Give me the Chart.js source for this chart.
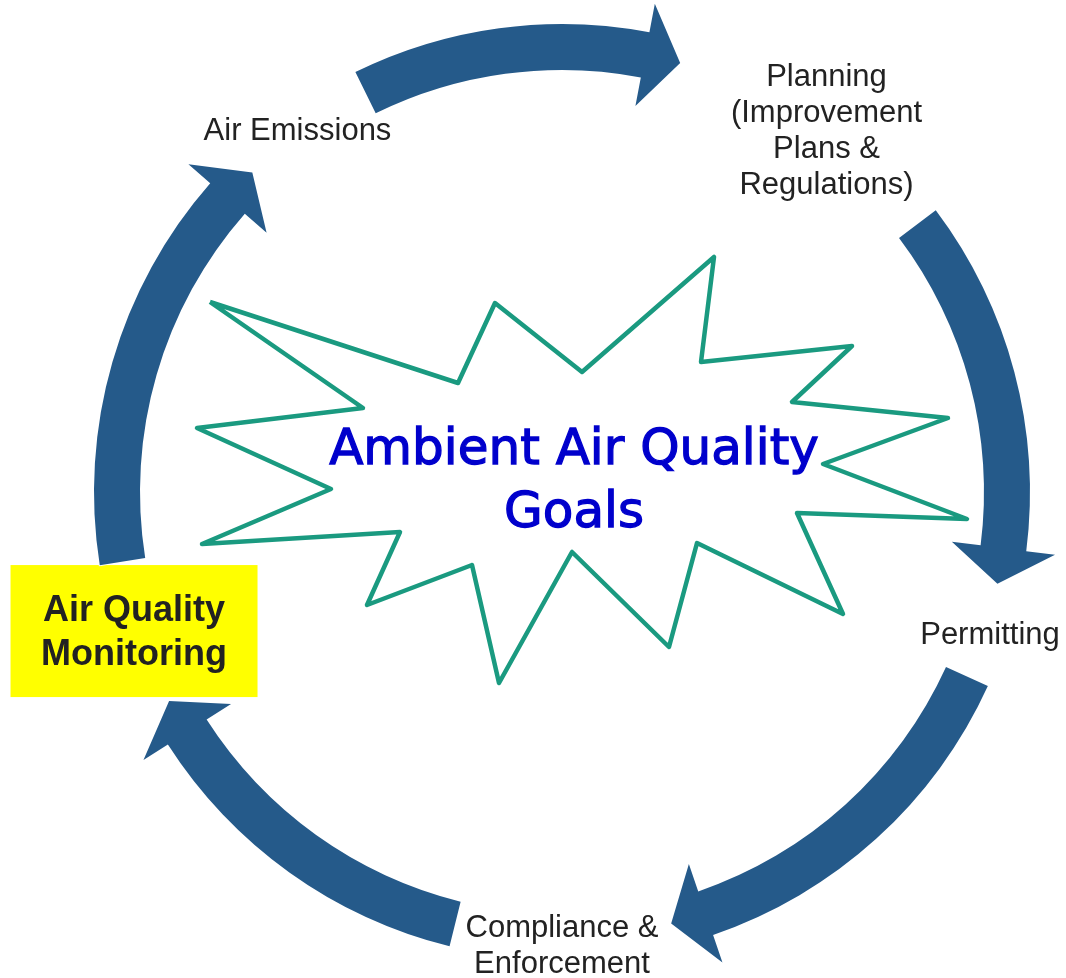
<!DOCTYPE html>
<html>
<head>
<meta charset="utf-8">
<title>Ambient Air Quality Goals</title>
<script src="https://cdn.jsdelivr.net/npm/chart.js@4.4.1/dist/chart.umd.min.js"></script>
<style>
    html, body { margin: 0; padding: 0; background: #fff; overflow: hidden; }
    #wrap { width: 1066px; height: 978px; position: relative; }
</style>
</head>
<body>
<div id="wrap"><canvas id="cycleChart"></canvas></div>
<script>
// stages of the cycle, clockwise from the top left
const stages = [
    ['Air Emissions'],
    ['Planning', '(Improvement', 'Plans &', 'Regulations)'],
    ['Permitting'],
    ['Compliance &', 'Enforcement'],
    ['Air Quality', 'Monitoring']
];
// angle of each stage on the ring (degrees, 0 = right, clockwise)
const stageAngles = [-126, -54, 18, 90, 162];

// arrows between stages: where the tail starts and where the tip ends (degrees)
const arrowFrom = [-116.2, -37.0, 24.5, 103.9, 171.0];
const arrowTo = [-74.6, 11.9, 75.8, 152.0, 225.9];

// the starburst outline in the middle
const burstX = [210, 458, 495, 582, 714, 701, 852, 792, 948, 823, 967, 797, 843, 697, 669, 572, 499, 472, 367, 400, 202, 331, 197, 363, 210];
const burstY = [302, 383, 303, 372, 257, 362, 346, 402, 418, 464, 519, 513, 614, 543, 647, 552, 683, 565, 605, 532, 544, 489, 428, 408, 302];

const titleLines = ['Ambient Air Quality', 'Goals'];
const highlightStage = 4;

const burstPoints = burstX.map((v, i) => ({ x: v, y: burstY[i] }));

const rad = d => d * Math.PI / 180;

// draws the ring of arrows, the yellow box and the labels using the chart scales
const cyclePlugin = {
    id: 'cyclePlugin',
    beforeDatasetsDraw(chart, args, opts) {
        const { ctx, scales: { x, y } } = chart;
        const cx = x.getPixelForValue(opts.cx);
        const cy = y.getPixelForValue(opts.cy);
        const k = Math.abs(x.getPixelForValue(1) - x.getPixelForValue(0));

        // highlight box behind the monitoring label
        const a = rad(stageAngles[highlightStage]);
        const hx = x.getPixelForValue(opts.cx + opts.labelR * Math.cos(a));
        const hy = y.getPixelForValue(opts.cy + opts.labelR * Math.sin(a));
        ctx.save();
        ctx.fillStyle = opts.boxColor;
        ctx.fillRect(hx - opts.boxW / 2 * k, hy - opts.boxH / 2 * k, opts.boxW * k, opts.boxH * k);
        ctx.restore();

        const rOut = opts.rOut * k, rIn = opts.rIn * k;
        const rMid = (rOut + rIn) / 2;
        const bOut = opts.barbOut * k, bIn = opts.barbIn * k;
        const pt = (r, ang) => [cx + r * Math.cos(ang), cy + r * Math.sin(ang)];

        ctx.save();
        ctx.fillStyle = opts.arrowColor;
        ctx.strokeStyle = '#ffffff';
        ctx.lineWidth = 2;
        ctx.lineJoin = 'miter';
        arrowFrom.forEach((from, i) => {
            const a0 = rad(from);
            const a1 = rad(arrowTo[i]);
            const ab = a1 - (opts.headLen * k) / rMid;
            ctx.beginPath();
            ctx.arc(cx, cy, rOut, a0, ab, false);
            ctx.lineTo(...pt(bOut, ab));
            ctx.lineTo(...pt(rMid, a1));
            ctx.lineTo(...pt(bIn, ab));
            ctx.lineTo(...pt(rIn, ab));
            ctx.arc(cx, cy, rIn, ab, a0, true);
            ctx.closePath();
            ctx.stroke();
            ctx.fill();
        });
        ctx.restore();
    },
    afterDatasetsDraw(chart, args, opts) {
        const { ctx, scales: { x, y } } = chart;
        ctx.save();
        ctx.textAlign = 'center';
        ctx.textBaseline = 'middle';

        stages.forEach((lines, i) => {
            const a = rad(stageAngles[i]);
            const px = x.getPixelForValue(opts.cx + opts.labelR * Math.cos(a));
            const py = y.getPixelForValue(opts.cy + opts.labelR * Math.sin(a));
            const bold = i === highlightStage;
            const lh = bold ? 44 : 36;
            ctx.font = (bold ? 'bold 36px' : '31px') + ' "Liberation Sans", Arial, sans-serif';
            ctx.fillStyle = '#222222';
            const top = py - (lines.length - 1) * lh / 2 + (bold ? 2 : 4);
            lines.forEach((t, j) => ctx.fillText(t, px, top + j * lh));
        });

        // centre title, a light stroke gives it the heavier look of the original face
        ctx.font = '50px "DejaVu Sans", Verdana, sans-serif';
        ctx.fillStyle = '#0000cc';
        ctx.strokeStyle = '#0000cc';
        ctx.lineWidth = 1.3;
        ctx.textBaseline = 'alphabetic';
        const tx = x.getPixelForValue(opts.titleX);
        titleLines.forEach((t, j) => {
            const ty = y.getPixelForValue(opts.titleY + j * 63);
            ctx.fillText(t, tx, ty);
            ctx.strokeText(t, tx, ty);
        });
        ctx.restore();
    }
};

new Chart(document.getElementById('cycleChart'), {
    type: 'scatter',
    data: {
        datasets: [{
            label: 'goals',
            data: burstPoints,
            showLine: true,
            borderColor: '#1a9a80',
            borderWidth: 4.5,
            borderJoinStyle: 'round',
            pointRadius: 0,
            fill: false,
            tension: 0,
            clip: false
        }]
    },
    options: {
        responsive: true,
        maintainAspectRatio: false,
        animation: false,
        layout: { padding: 0 },
        scales: {
            x: { type: 'linear', min: 0, max: 1066, display: false },
            y: { type: 'linear', min: 0, max: 978, reverse: true, display: false }
        },
        plugins: {
            legend: { display: false },
            tooltip: { enabled: false },
            cyclePlugin: {
                cx: 562,
                cy: 492,
                rOut: 468,
                rIn: 422,
                barbOut: 497,
                barbIn: 393,
                headLen: 36,
                labelR: 450,
                arrowColor: '#255a8a',
                boxColor: '#ffff00',
                boxW: 247,
                boxH: 132,
                titleX: 574,
                titleY: 464
            }
        }
    },
    plugins: [cyclePlugin]
});
</script>
</body>
</html>
